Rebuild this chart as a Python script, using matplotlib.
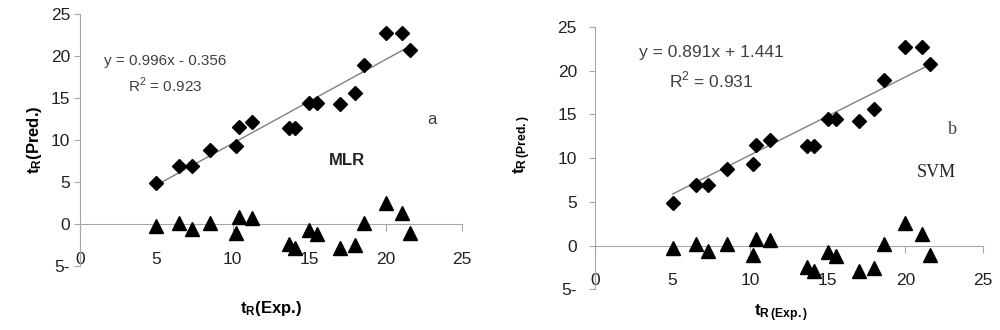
import numpy as np
import matplotlib
matplotlib.use("Agg")
import matplotlib.pyplot as plt

plt.rcParams['font.family'] = ['Liberation Sans', 'DejaVu Sans']
plt.rcParams['mathtext.fontset'] = 'custom'
plt.rcParams['mathtext.rm'] = 'Liberation Sans'
plt.rcParams['mathtext.bf'] = 'Liberation Sans:bold'

# experimental retention times
t_exp = [5.0, 6.5, 7.3, 8.5, 10.2, 10.4, 11.25, 13.65, 14.1, 15.0, 15.5,
         17.0, 18.0, 18.6, 20.0, 21.1, 21.6]
# predicted retention times (same in both panels)
t_pred = [4.85, 6.9, 6.95, 8.8, 9.3, 11.5, 12.1, 11.4, 11.4, 14.45, 14.45,
          14.25, 15.6, 18.9, 22.7, 22.7, 20.7]
# residuals
resid = [-0.3, 0.15, -0.6, 0.15, -1.1, 0.8, 0.7, -2.4, -2.9, -0.7, -1.2,
         -2.9, -2.5, 0.15, 2.55, 1.35, -1.1]

fits = [(0.996, -0.356), (0.891, 1.441)]
eq_texts = [("y = 0.996x - 0.356", "R$^2$ = 0.923"),
            ("y = 0.891x + 1.441", "R$^2$ = 0.931")]
xticks = [0, 5, 10, 15, 20, 25]
yticks = [-5, 0, 5, 10, 15, 20, 25]
ytick_labels = ['5-', '0', '5', '10', '15', '20', '25']

fig = plt.figure(figsize=(10, 3.3), dpi=100)
ax1 = fig.add_axes([0.080, 0.194, 0.382, 0.764])
ax2 = fig.add_axes([0.595, 0.123, 0.388, 0.796])

for i, ax in enumerate([ax1, ax2]):
    ax.set_xlim(0, 25)
    ax.set_ylim(-5, 25)
    for s in ['top', 'right']:
        ax.spines[s].set_visible(False)
    ax.spines['bottom'].set_position(('data', 0))
    ax.spines['bottom'].set_color('#a6a6a6')
    ax.spines['left'].set_color('#a6a6a6')
    ax.set_xticks(xticks)
    ax.set_yticks(yticks)
    ax.set_yticklabels(ytick_labels)
    ax.tick_params(axis='x', direction='out', length=5, color='#a6a6a6',
                   pad=15, labelsize=12.5, labelcolor='#222222')
    ax.tick_params(axis='y', direction='out', length=4, color='#a6a6a6',
                   pad=3 if i == 0 else 9, labelsize=12.5, labelcolor='#222222')

    m, b = fits[i]
    xl = np.array([min(t_exp), max(t_exp)])
    ax.plot(xl, m * xl + b, color='#7f7f7f', lw=1, zorder=2)
    ax.plot(t_exp, t_pred, 'D', color='black', ms=7.5, zorder=3, clip_on=False)
    ax.plot(t_exp, resid, '^', color='black', ms=10, zorder=3, clip_on=False)

# left panel annotations
ax1.text(5.6, 19.4, eq_texts[0][0], ha='center', va='center', fontsize=11,
         color='#404040')
ax1.text(5.6, 16.5, eq_texts[0][1], ha='center', va='center', fontsize=11,
         color='#404040')
ax1.text(23.0, 12.4, 'a', ha='center', va='center', fontsize=12, color='#404040')
ax1.text(17.45, 7.6, 'MLR', ha='center', va='center', fontsize=12,
         fontweight='bold', color='#222222')
ax1.set_ylabel(r'$\mathbf{t_R}$(Pred.)', fontsize=12, fontweight='bold',
               labelpad=5)
ax1.set_xlabel(r'$\mathbf{t_R}$(Exp.)', fontsize=12, fontweight='bold')
ax1.xaxis.set_label_coords(0.5, -0.13)

# right panel annotations
ax2.text(7.5, 22.0, eq_texts[1][0], ha='center', va='center', fontsize=12.5,
         color='#404040')
ax2.text(7.5, 18.9, eq_texts[1][1], ha='center', va='center', fontsize=12.5,
         color='#404040')
ax2.text(23.0, 13.3, 'b', ha='center', va='center', fontsize=13,
         color='#404040', family=['Liberation Serif', 'DejaVu Serif'])
ax2.text(22.0, 8.3, 'SVM', ha='center', va='center', fontsize=13,
         color='#222222', family=['Liberation Serif', 'DejaVu Serif'])
ax2.set_ylabel(r'$\mathbf{t_{R\,(Pred.)}}$', fontsize=12.5, fontweight='bold')
ax2.yaxis.set_label_coords(-0.16, 0.55)
ax2.set_xlabel(r'$\mathbf{t_{R\,(Exp.)}}$', fontsize=12.5, fontweight='bold')
ax2.xaxis.set_label_coords(0.48, -0.05)

fig.savefig('out.png', dpi=100)
